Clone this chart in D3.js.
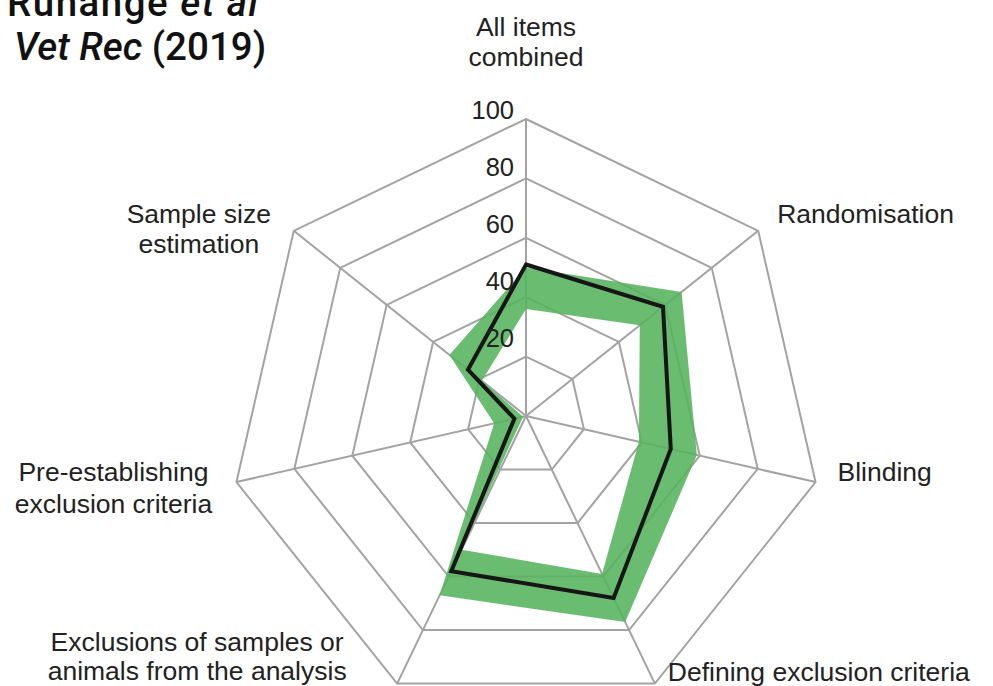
<!DOCTYPE html>
<html>
<head>
<meta charset="utf-8">
<script src="https://cdn.jsdelivr.net/npm/d3@7"></script>
<style>
  html, body { margin: 0; padding: 0; background: #fff; }
  svg { display: block; }
</style>
</head>
<body>
<svg id="chart" width="993" height="686"></svg>
<script>
// Reporting items, clockwise from the top spoke
const items = [
  "All items combined",
  "Randomisation",
  "Blinding",
  "Defining exclusion criteria",
  "Exclusions of samples or animals from the analysis",
  "Pre-establishing exclusion criteria",
  "Sample size estimation"
];
// Label lines as printed next to each spoke
const itemLines = [
  ["All items", "combined"],
  ["Randomisation"],
  ["Blinding"],
  ["Defining exclusion criteria"],
  ["Exclusions of samples or", "animals from the analysis"],
  ["Pre-establishing", "exclusion criteria"],
  ["Sample size", "estimation"]
];
// Percentage of items reported (black line) and the shaded range
const reported = [51, 59, 50, 68, 58, 4, 25];
const rangeLow  = [36, 49, 39, 59, 50, 1, 19];
const rangeHigh = [50, 67, 59, 77, 67, 11, 33];
// Ring values and their tick labels
const ringValues = [20, 40, 60, 80, 100];
const ringLabels = ["20", "40", "60", "80", "100"];

const titleLine1 = ["Ruhange ", "et al"];
const titleLine2 = ["Vet Rec", " (2019)"];

// ---- layout ----
const cx = 526, cy = 416, R = 297;
const n = items.length;
const svg = d3.select("#chart");

const r = d3.scaleLinear().domain([0, 100]).range([0, R]);
const angle = d3.scaleLinear().domain([0, n]).range([0, 2 * Math.PI]);

const g = svg.append("g").attr("transform", `translate(${cx},${cy})`);

const radial = d3.lineRadial()
  .angle((d, i) => angle(i))
  .radius(d => r(d))
  .curve(d3.curveLinearClosed);

// grid rings and spokes
const gridColor = "#a3a3a3";
g.selectAll("path.ring")
  .data(ringValues)
  .join("path")
  .attr("class", "ring")
  .attr("d", v => radial(d3.range(n).map(() => v)))
  .attr("fill", "none")
  .attr("stroke", gridColor)
  .attr("stroke-width", 2);

const pt = (i, v) => {
  const a = angle(i);
  return [Math.sin(a) * r(v), -Math.cos(a) * r(v)];
};

g.selectAll("line.spoke")
  .data(d3.range(n))
  .join("line")
  .attr("class", "spoke")
  .attr("x1", 0).attr("y1", 0)
  .attr("x2", i => pt(i, 100)[0])
  .attr("y2", i => pt(i, 100)[1])
  .attr("stroke", gridColor)
  .attr("stroke-width", 2);

// shaded range band: outer ring minus inner ring
g.append("path")
  .attr("d", radial(rangeHigh) + radial(rangeLow))
  .attr("fill", "#55b35d")
  .attr("fill-opacity", 0.88)
  .attr("fill-rule", "evenodd");

// reported percentage
g.append("path")
  .attr("d", radial(reported))
  .attr("fill", "none")
  .attr("stroke", "#161616")
  .attr("stroke-width", 4)
  .attr("stroke-linejoin", "miter");

// tick labels along the top spoke
g.selectAll("text.tick")
  .data(ringValues)
  .join("text")
  .attr("class", "tick")
  .attr("x", -12)
  .attr("y", v => -(r(v) * 0.96 + 12))
  .attr("text-anchor", "end")
  .attr("font-family", "'Liberation Sans', Arial, sans-serif")
  .attr("font-size", 25.5)
  .attr("fill", "#222")
  .text((v, i) => ringLabels[i]);

// spoke labels, placed relative to each outer vertex
const labelLayout = [
  { anchor: "middle", dx: 0,    dy: -83, lh: 30 },
  { anchor: "start",  dx: 19,   dy: -8,  lh: 30 },
  { anchor: "start",  dx: 22,   dy: -1,  lh: 30 },
  { anchor: "start",  dx: 13,   dy: -3,  lh: 30 },
  { anchor: "middle", dx: -200, dy: -33, lh: 29 },
  { anchor: "middle", dx: -123, dy: -1,  lh: 32 },
  { anchor: "middle", dx: -95,  dy: -8,  lh: 30 }
];

const labels = g.selectAll("text.item")
  .data(d3.range(n))
  .join("text")
  .attr("class", "item")
  .attr("font-family", "'Liberation Sans', Arial, sans-serif")
  .attr("font-size", 26.5)
  .attr("fill", "#222")
  .attr("text-anchor", i => labelLayout[i].anchor);

labels.each(function(i) {
  const [vx, vy] = pt(i, 100);
  const L = labelLayout[i];
  d3.select(this).selectAll("tspan")
    .data(itemLines[i])
    .join("tspan")
    .attr("x", vx + L.dx)
    .attr("y", (d, k) => vy + L.dy + k * L.lh)
    .text(d => d);
});

// citation in the top-left corner
const title = svg.append("g")
  .attr("font-family", "Roboto, 'DejaVu Sans', sans-serif")
  .attr("font-weight", 500)
  .attr("font-size", 38.5)
  .attr("fill", "#111");

const t1 = title.append("text").attr("x", 7).attr("y", 16).attr("letter-spacing", 1.5);
t1.append("tspan").text(titleLine1[0]);
t1.append("tspan").attr("font-style", "italic").text(titleLine1[1]);

const t2 = title.append("text").attr("x", 14).attr("y", 60);
t2.append("tspan").attr("font-style", "italic").text(titleLine2[0]);
t2.append("tspan").text(titleLine2[1]);
</script>
</body>
</html>
